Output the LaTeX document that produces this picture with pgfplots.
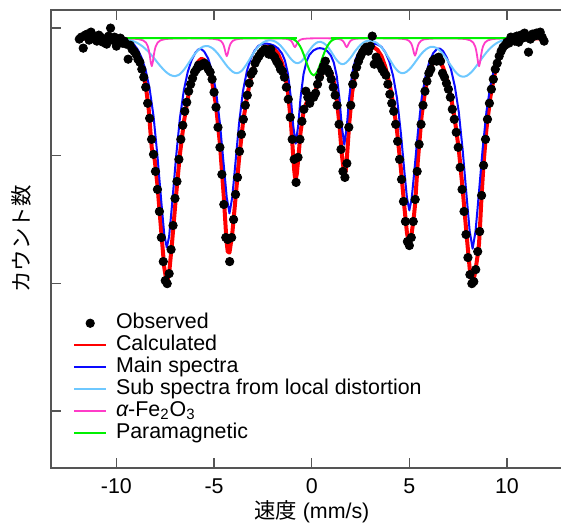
\documentclass[border=0pt]{standalone}
\usepackage{pgfplots}
\pgfplotsset{compat=1.18}
\usepackage{fontspec}
\setmainfont{Liberation Sans}
\newfontfamily\jp{Noto Sans CJK JP}
\definecolor{cRed}{RGB}{255,0,0}
\definecolor{cBlue}{RGB}{10,10,255}
\definecolor{cSky}{RGB}{110,200,255}
\definecolor{cMag}{RGB}{255,60,200}
\definecolor{cGreen}{RGB}{0,240,0}
\definecolor{cAxis}{RGB}{85,85,85}
\pgfplotsset{legend image code/.code={\draw[mark repeat=2,mark phase=2,#1] plot coordinates {(0pt,0pt) (8pt,0pt) (16pt,0pt)};}}
\begin{document}
\fontsize{10.7}{12.8}\selectfont
\begin{tikzpicture}
\begin{axis}[
  scale only axis,
  width=260.7pt, height=228.5pt,
  xmin=-13.35, xmax=13.35, ymin=-468, ymax=-11,
  axis line style={cAxis, line width=0.75pt},
  xtick={-10,-5,0,5,10},
  xticklabels={-10,-5,0,5,10},
  ytick={-411,-283.67,-156.33,-29},
  yticklabels={},
  tick align=inside,
  major tick length=5pt,
  tick style={cAxis, line width=0.75pt},
  xticklabel style={anchor=center, yshift=-9pt, font=\fontsize{10.7}{12.8}\selectfont},
  xlabel={{\jp 速度} (mm/s)},
  ylabel={{\jp カウント数}},
  every axis x label/.style={at={(rel axis cs:0.5,0)}, anchor=center, yshift=-22pt, font=\fontsize{10.7}{12.8}\selectfont},
  every axis y label/.style={at={(rel axis cs:0,0.5)}, anchor=center, rotate=90, yshift=15pt, font=\fontsize{10.7}{12.8}\selectfont},
  legend cell align=left,
  legend style={at={(rel axis cs:0.0422,0.341)}, anchor=north west, draw=none, fill=none,
    inner sep=0pt, row sep=0pt, column sep=4.5pt,
    nodes={inner sep=0pt, text height=8.2pt, text depth=2.8pt},
    font=\fontsize{10.7}{12.8}\selectfont},
]
\coordinate (SW) at (rel axis cs:0,0);
\addlegendimage{only marks, mark=*, mark size=2.1pt, black}
\addlegendentry{Observed}
\addlegendimage{cRed, line width=0.8pt}
\addlegendentry{Calculated}
\addlegendimage{cBlue, line width=0.8pt}
\addlegendentry{Main spectra}
\addlegendimage{cSky, line width=0.8pt}
\addlegendentry{Sub spectra from local distortion}
\addlegendimage{cMag, line width=0.8pt}
\addlegendentry{{\itshape α}-Fe\textsubscript{2}O\textsubscript{3}}
\addlegendimage{cGreen, line width=0.8pt}
\addlegendentry{Paramagnetic}

% Calculated
\addplot[forget plot, cRed, line width=2pt, line join=round] coordinates {
(-12,-39.1) (-11,-39.2) (-10.4,-39.5) (-10,-40.2) (-9.6,-41.7) (-9.3,-44.9) (-9.1,-49.3) (-8.9,-56.7) (-8.7,-68.4) (-8.5,-86.2) (-8.35,-109.1) (-8.24,-136.9) (-8.19,-148.3) (-8.14,-153.2) (-8.04,-160.3) (-7.9,-185.4) (-7.7,-233.3) (-7.55,-268.0) (-7.42,-283.4) (-7.3,-273.5) (-7.15,-242.8) (-6.95,-196.8) (-6.75,-155.2) (-6.55,-123.3) (-6.35,-99.3) (-6.15,-81.5) (-5.95,-68.6) (-5.8,-62.2) (-5.65,-59.6) (-5.5,-60.8) (-5.3,-67.8) (-5.1,-82.5) (-4.9,-106.2) (-4.7,-144.5) (-4.5,-197.8) (-4.4,-230.0) (-4.35,-243.7) (-4.3,-252.0) (-4.21,-253.0) (-4.07,-234.6) (-3.92,-202.9) (-3.72,-159.4) (-3.52,-123.6) (-3.32,-98.0) (-3.12,-78.8) (-2.92,-64.6) (-2.72,-55.0) (-2.52,-49.6) (-2.32,-47.4) (-2.12,-47.5) (-1.92,-49.6) (-1.72,-54.7) (-1.52,-63.8) (-1.37,-74.8) (-1.22,-92.3) (-1.07,-121.5) (-0.95,-156.1) (-0.9,-169.9) (-0.86,-177.5) (-0.82,-179.7) (-0.76,-174.2) (-0.69,-159.7) (-0.57,-132.9) (-0.42,-112.6) (-0.27,-103.7) (-0.12,-100.1) (0.08,-95.9) (0.28,-87.3) (0.42,-79.8) (0.58,-72.2) (0.78,-68.3) (0.98,-72.8) (1.13,-82.6) (1.28,-99.6) (1.42,-125.1) (1.54,-154.7) (1.67,-175.8) (1.74,-171.7) (1.79,-162.0) (1.84,-147.8) (1.92,-124.4) (2.07,-93.5) (2.22,-75.7) (2.37,-64.3) (2.57,-55.2) (2.77,-50.2) (2.97,-47.8) (3.17,-48.0) (3.37,-50.8) (3.57,-56.9) (3.77,-67.7) (3.97,-83.0) (4.17,-104.0) (4.37,-131.6) (4.57,-170.0) (4.75,-208.5) (4.88,-233.7) (5.0,-245.0) (5.12,-233.9) (5.19,-223.3) (5.24,-215.6) (5.29,-205.5) (5.34,-190.8) (5.43,-162.6) (5.63,-116.1) (5.83,-88.9) (6.03,-71.7) (6.23,-62.7) (6.43,-60.2) (6.58,-62.6) (6.73,-68.4) (6.93,-80.8) (7.13,-97.4) (7.33,-120.4) (7.53,-149.8) (7.73,-189.7) (7.93,-235.0) (8.09,-269.1) (8.24,-285.5) (8.39,-270.3) (8.47,-259.3) (8.52,-253.2) (8.57,-243.6) (8.62,-226.5) (8.7,-195.8) (8.8,-164.5) (8.95,-129.2) (9.15,-97.6) (9.35,-76.1) (9.55,-62.1) (9.75,-52.4) (9.95,-46.3) (10.15,-43.1) (10.45,-40.9) (10.85,-39.9) (11.3,-39.3) (12,-39.1)
};
% Main spectra
\addplot[forget plot, cBlue, line width=1pt, line join=round] coordinates {
(-12,-39.0) (-11,-39.1) (-10.4,-39.3) (-10.0,-39.8) (-9.6,-40.6) (-9.3,-42.5) (-9.1,-45.4) (-8.9,-50.7) (-8.7,-59.0) (-8.5,-71.1) (-8.3,-89.5) (-8.1,-116.9) (-7.9,-156.4) (-7.7,-202.5) (-7.55,-234.8) (-7.42,-248.1) (-7.3,-236.8) (-7.15,-204.9) (-6.95,-158.6) (-6.75,-119.0) (-6.55,-91.3) (-6.35,-72.9) (-6.15,-60.9) (-5.95,-53.4) (-5.8,-50.2) (-5.65,-50.0) (-5.5,-52.5) (-5.3,-59.5) (-5.1,-72.2) (-4.9,-91.8) (-4.7,-124.1) (-4.5,-166.5) (-4.35,-198.2) (-4.21,-213.9) (-4.07,-198.1) (-3.92,-166.6) (-3.72,-124.2) (-3.52,-91.9) (-3.32,-72.0) (-3.12,-59.2) (-2.92,-51.3) (-2.72,-46.6) (-2.52,-44.7) (-2.32,-44.4) (-2.12,-45.1) (-1.92,-46.5) (-1.72,-49.3) (-1.52,-54.4) (-1.37,-61.4) (-1.22,-74.3) (-1.07,-97.9) (-0.95,-125.8) (-0.82,-144.3) (-0.69,-126.1) (-0.57,-98.4) (-0.42,-75.1) (-0.27,-62.5) (-0.12,-55.8) (0.08,-51.4) (0.28,-49.4) (0.42,-49.0) (0.58,-49.5) (0.78,-51.6) (0.98,-56.3) (1.13,-63.3) (1.28,-76.5) (1.42,-99.0) (1.54,-126.8) (1.67,-145.3) (1.80,-126.6) (1.92,-98.5) (2.07,-74.5) (2.22,-61.6) (2.37,-54.5) (2.57,-49.4) (2.77,-46.7) (2.97,-45.2) (3.17,-44.6) (3.37,-45.3) (3.57,-47.7) (3.77,-53.2) (3.97,-62.1) (4.17,-76.8) (4.37,-99.2) (4.57,-134.6) (4.75,-172.9) (4.88,-198.8) (5.00,-210.9) (5.12,-198.9) (5.25,-172.9) (5.43,-134.4) (5.63,-99.0) (5.83,-76.6) (6.03,-62.1) (6.23,-53.7) (6.43,-49.6) (6.58,-49.6) (6.73,-52.0) (6.93,-59.0) (7.13,-69.9) (7.33,-87.2) (7.53,-112.5) (7.73,-150.5) (7.93,-196.3) (8.09,-231.7) (8.24,-249.1) (8.39,-231.7) (8.55,-196.2) (8.75,-150.3) (8.95,-112.1) (9.15,-86.4) (9.35,-68.8) (9.55,-57.5) (9.75,-49.6) (9.95,-44.7) (10.15,-42.2) (10.45,-40.5) (10.85,-39.7) (11.3,-39.2) (12,-39.0)
};
% Sub spectra
\addplot[forget plot, cSky, line width=1pt, smooth] coordinates {
(-12,-39.0) (-10.5,-39.0) (-10.0,-39.3) (-9.6,-39.9) (-9.3,-41.0) (-9.0,-43.1) (-8.7,-46.7) (-8.4,-51.8) (-8.1,-58.4) (-7.8,-65.7) (-7.5,-72.1) (-7.25,-75.7) (-7.0,-77.0) (-6.8,-75.7) (-6.55,-70.8) (-6.3,-63.8) (-6.05,-56.4) (-5.8,-50.7) (-5.55,-47.4) (-5.3,-47.0) (-5.05,-49.6) (-4.8,-54.7) (-4.55,-61.3) (-4.3,-67.8) (-4.05,-72.5) (-3.83,-74.0) (-3.6,-71.9) (-3.35,-65.6) (-3.1,-57.6) (-2.85,-50.2) (-2.6,-44.9) (-2.35,-42.0) (-2.1,-41.2) (-1.85,-42.6) (-1.6,-46.4) (-1.35,-52.3) (-1.1,-58.9) (-0.9,-62.8) (-0.72,-64.0) (-0.52,-62.1) (-0.3,-56.6) (-0.1,-50.7) (0.1,-45.9) (0.3,-43.1) (0.45,-42.7) (0.6,-43.8) (0.8,-47.2) (1.0,-52.6) (1.2,-58.8) (1.4,-63.5) (1.57,-65.0) (1.75,-63.7) (2.0,-58.4) (2.25,-51.4) (2.5,-45.7) (2.75,-42.3) (3.0,-41.5) (3.25,-42.8) (3.5,-46.5) (3.75,-52.7) (4.0,-60.5) (4.25,-68.2) (4.45,-72.5) (4.64,-74.0) (4.85,-72.7) (5.1,-68.1) (5.35,-61.6) (5.6,-55.0) (5.85,-50.2) (6.1,-47.7) (6.35,-48.4) (6.6,-52.1) (6.85,-58.2) (7.1,-65.6) (7.35,-72.4) (7.55,-76.2) (7.75,-77.5) (7.95,-76.5) (8.2,-72.5) (8.45,-66.4) (8.7,-59.6) (8.95,-53.2) (9.2,-48.0) (9.45,-44.2) (9.7,-41.8) (10.0,-40.2) (10.4,-39.3) (11.0,-39.0) (12.0,-39.0)
};
% alpha-Fe2O3
\addplot[forget plot, cMag, line width=0.9pt, line join=round] coordinates {
(-12,-39.0) (-10,-39.1) (-9.19,-39.5) (-8.89,-39.9) (-8.64,-41.2) (-8.49,-43.4) (-8.39,-47.3) (-8.34,-51.0) (-8.29,-56.6) (-8.24,-63.4) (-8.19,-67.0) (-8.14,-63.4) (-8.09,-56.6) (-8.04,-51.0) (-7.99,-47.3) (-7.89,-43.4) (-7.74,-41.2) (-7.49,-39.9) (-7.19,-39.5) (-6.3,-39.2) (-5.35,-39.4) (-5.05,-39.7) (-4.8,-40.5) (-4.65,-41.8) (-4.55,-44.3) (-4.5,-46.7) (-4.45,-50.3) (-4.4,-54.7) (-4.35,-57.0) (-4.3,-54.7) (-4.25,-50.3) (-4.2,-46.7) (-4.15,-44.3) (-4.05,-41.8) (-3.9,-40.4) (-3.65,-39.6) (-3.35,-39.3) (-2.6,-39.2) (-1.86,-39.3) (-1.56,-39.4) (-1.31,-39.7) (-1.16,-40.4) (-1.06,-41.7) (-1.01,-42.9) (-0.96,-44.7) (-0.91,-46.8) (-0.86,-48.0) (-0.81,-46.8) (-0.76,-44.7) (-0.71,-42.9) (-0.66,-41.7) (-0.56,-40.4) (-0.41,-39.7) (-0.16,-39.3) (0.14,-39.2) (0.47,-39.2) (0.79,-39.2) (1.09,-39.3) (1.34,-39.7) (1.49,-40.4) (1.59,-41.7) (1.64,-42.9) (1.69,-44.7) (1.74,-46.8) (1.79,-48.0) (1.84,-46.8) (1.89,-44.7) (1.94,-42.9) (1.99,-41.7) (2.09,-40.4) (2.24,-39.7) (2.49,-39.3) (2.79,-39.2) (3.54,-39.2) (4.29,-39.35) (4.59,-39.6) (4.84,-40.3) (4.99,-41.8) (5.09,-44.2) (5.14,-46.5) (5.19,-50.0) (5.24,-54.2) (5.29,-56.5) (5.34,-54.2) (5.39,-50.0) (5.44,-46.5) (5.49,-44.2) (5.59,-41.8) (5.74,-40.3) (5.99,-39.7) (6.29,-39.4) (6.93,-39.3) (7.57,-39.5) (7.87,-39.9) (8.12,-41.2) (8.27,-43.4) (8.37,-47.3) (8.42,-51.0) (8.47,-56.6) (8.52,-63.4) (8.57,-67.0) (8.62,-63.4) (8.67,-56.6) (8.72,-51.0) (8.77,-47.3) (8.87,-43.4) (9.02,-41.2) (9.27,-39.9) (9.57,-39.5) (10.5,-39.1) (12,-39.0)
};
% Paramagnetic
\addplot[forget plot, cGreen, line width=1pt, smooth] coordinates {
(-12,-39.0) (-1.5,-39.0) (-1.2,-39.2) (-1.0,-39.8) (-0.9,-40.6) (-0.8,-41.9) (-0.7,-44.0) (-0.6,-47.0) (-0.5,-51.0) (-0.4,-55.9) (-0.3,-61.4) (-0.2,-66.9) (-0.1,-71.7) (0.0,-74.8) (0.1,-76.0) (0.2,-74.8) (0.3,-71.7) (0.4,-66.9) (0.5,-61.4) (0.6,-55.9) (0.7,-51.0) (0.8,-47.0) (0.9,-44.0) (1.0,-41.9) (1.1,-40.6) (1.2,-39.8) (1.4,-39.2) (1.7,-39.0) (12,-39.0)
};
% Observed
\addplot[forget plot, only marks, mark=*, mark size=2.1pt, black] coordinates {
(-11.9,-40) (-11.8,-38) (-11.7,-49) (-11.6,-36) (-11.5,-35) (-11.4,-41) (-11.3,-33) (-11.2,-37) (-11.1,-40) (-11.0,-42) (-10.9,-36) (-10.8,-38) (-10.7,-43) (-10.6,-40) (-10.5,-45) (-10.4,-37) (-10.3,-29) (-10.2,-41) (-10.1,-38) (-10.0,-47) (-9.9,-42) (-9.8,-39) (-9.7,-44) (-9.6,-42) (-9.5,-45) (-9.4,-60) (-9.3,-46) (-9.2,-50) (-9.1,-52) (-9.0,-55) (-8.9,-60) (-8.8,-63) (-8.7,-70) (-8.6,-78) (-8.5,-88) (-8.4,-104) (-8.3,-119) (-8.2,-140) (-8.1,-155) (-8.0,-172) (-7.9,-190) (-7.8,-212) (-7.7,-238) (-7.6,-262) (-7.5,-281) (-7.4,-284) (-7.3,-274) (-7.2,-250) (-7.1,-226) (-7.0,-199) (-6.9,-182) (-6.8,-160) (-6.7,-140) (-6.6,-126) (-6.5,-112) (-6.4,-103) (-6.3,-92) (-6.2,-85) (-6.1,-79) (-6.0,-73) (-5.9,-70) (-5.8,-66) (-5.7,-67) (-5.6,-65) (-5.5,-64) (-5.4,-66) (-5.3,-70) (-5.2,-73) (-5.1,-80) (-5.0,-93) (-4.9,-108) (-4.8,-128) (-4.7,-148) (-4.6,-175) (-4.5,-205) (-4.4,-238) (-4.3,-240) (-4.2,-262) (-4.1,-238) (-4.0,-220) (-3.9,-195) (-3.8,-178) (-3.7,-152) (-3.6,-135) (-3.5,-120) (-3.4,-106) (-3.3,-96) (-3.2,-84) (-3.1,-75) (-3.0,-72) (-2.9,-64) (-2.8,-60) (-2.7,-57) (-2.6,-54) (-2.5,-52) (-2.4,-50) (-2.3,-51) (-2.2,-55) (-2.1,-50) (-2.0,-56) (-1.9,-58) (-1.8,-62) (-1.7,-65) (-1.6,-70) (-1.5,-72) (-1.4,-78) (-1.3,-88) (-1.2,-100) (-1.1,-118) (-1.0,-140) (-0.9,-160) (-0.8,-183) (-0.7,-158) (-0.6,-140) (-0.5,-122) (-0.4,-110) (-0.3,-92) (-0.2,-98) (-0.1,-104) (0.0,-97) (0.1,-98) (0.2,-94) (0.3,-85) (0.4,-78) (0.5,-72) (0.6,-67) (0.7,-62) (0.8,-70) (0.9,-74) (1.0,-80) (1.1,-88) (1.2,-96) (1.3,-106) (1.4,-125) (1.5,-150) (1.6,-172) (1.7,-178) (1.8,-164) (1.9,-128) (2.0,-106) (2.1,-85) (2.2,-76) (2.3,-68) (2.4,-62) (2.5,-57) (2.6,-53) (2.7,-50) (2.8,-48) (2.9,-52) (3.0,-47) (3.1,-37) (3.2,-65) (3.3,-58) (3.4,-62) (3.5,-66) (3.6,-70) (3.7,-73) (3.8,-76) (3.9,-85) (4.0,-95) (4.1,-104) (4.2,-112) (4.3,-125) (4.4,-142) (4.5,-160) (4.6,-180) (4.7,-202) (4.8,-222) (4.9,-242) (5.0,-246) (5.1,-238) (5.2,-222) (5.3,-200) (5.4,-172) (5.5,-145) (5.6,-125) (5.7,-106) (5.8,-92) (5.9,-82) (6.0,-74) (6.1,-70) (6.2,-62) (6.3,-60) (6.4,-62) (6.5,-58) (6.6,-62) (6.7,-74) (6.8,-78) (6.9,-84) (7.0,-90) (7.1,-98) (7.2,-110) (7.3,-120) (7.4,-133) (7.5,-148) (7.6,-168) (7.7,-190) (7.8,-212) (7.9,-235) (8.0,-258) (8.1,-275) (8.2,-284) (8.3,-282) (8.4,-270) (8.5,-252) (8.6,-232) (8.7,-196) (8.8,-166) (8.9,-140) (9.0,-120) (9.1,-104) (9.2,-90) (9.3,-80) (9.4,-70) (9.5,-64) (9.6,-57) (9.7,-52) (9.8,-48) (9.9,-46) (10.0,-43) (10.1,-44) (10.2,-38) (10.3,-40) (10.4,-42) (10.5,-37) (10.6,-43) (10.7,-36) (10.8,-39) (10.9,-34) (11.0,-38) (11.1,-53) (11.2,-40) (11.3,-35) (11.4,-37) (11.5,-34) (11.6,-36) (11.7,-33) (11.8,-38) (11.9,-42)
};
\end{axis}
\pgfresetboundingbox
\path (SW) ++(-25.5pt,-27.5pt) rectangle ++(280.5pt,261.5pt);
\end{tikzpicture}
\end{document}
